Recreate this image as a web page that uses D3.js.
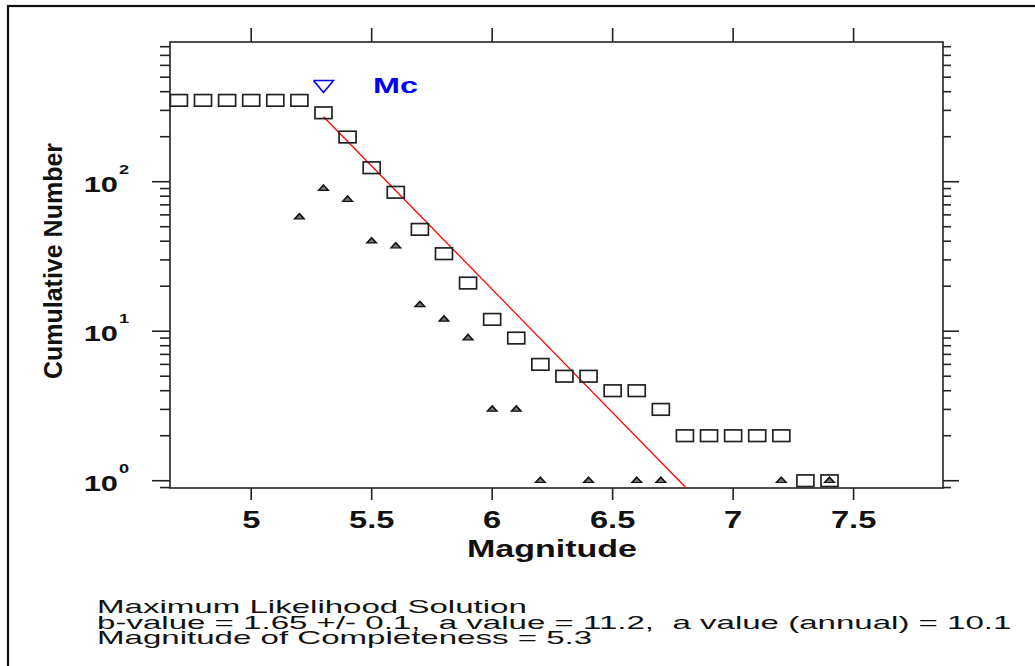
<!DOCTYPE html>
<html lang="en">
<head>
  <meta charset="UTF-8" />
  <title>Frequency-Magnitude Distribution</title>
  <script src="https://d3js.org/d3.v7.min.js"></script>
  <style>
    body { margin: 0; overflow: hidden; background: #fff; }
    svg { display: block; }
    text { font-family: "Liberation Sans", Arial, sans-serif; fill: #111; }
    .axis-line { stroke: #222; stroke-width: 1.6px; fill: none; }
    .tick { stroke: #222; stroke-width: 1.6px; }
    .cum { fill: none; stroke: #222; stroke-width: 1.7px; }
    .inc { fill: #777; stroke: #111; stroke-width: 1.4px; }
    .fit { fill: none; stroke: #ff0000; stroke-width: 1.3px; }
    .info { white-space: pre; }
  </style>
</head>
<body>
  <svg width="1035" height="666"></svg>
  <script>
    // magnitudes and cumulative number (squares)
    const magnitudes = [4.7, 4.8, 4.9, 5.0, 5.1, 5.2, 5.3, 5.4, 5.5, 5.6, 5.7, 5.8, 5.9, 6.0,
                        6.1, 6.2, 6.3, 6.4, 6.5, 6.6, 6.7, 6.8, 6.9, 7.0, 7.1, 7.2, 7.3, 7.4];
    const cumulativeCounts = [350, 350, 350, 350, 350, 350, 289, 199, 124, 85, 48, 33, 21, 12,
                              9, 6, 5, 5, 4, 4, 3, 2, 2, 2, 2, 2, 1, 1];
    // non cumulative number per bin (small triangles)
    const binMagnitudes = [5.2, 5.3, 5.4, 5.5, 5.6, 5.7, 5.8, 5.9, 6.0, 6.1, 6.2, 6.4, 6.6, 6.7, 7.2, 7.4];
    const binCounts = [58, 90, 76, 40, 37, 15, 12, 9, 3, 3, 1, 1, 1, 1, 1, 1];
    // Mc marker and fit
    const mcMagnitude = 5.3;
    const mcMarkerValue = 433;
    const bValue = 1.65;
    const aValue = 11.18;
    const xTicks = [5, 5.5, 6, 6.5, 7, 7.5];
    const yMajorTicks = [1, 10, 100];
    const yTickExponents = ["0", "1", "2"];
    const infoLines = [
      "Maximum Likelihood Solution",
      "b-value = 1.65 +/- 0.1,  a value = 11.2,  a value (annual) = 10.1",
      "Magnitude of Completeness = 5.3"
    ];

    const svg = d3.select("svg");
    const plot = { left: 170, right: 943, top: 42, bottom: 488 };

    const x = d3.scaleLinear().domain([4.663, 7.871]).range([plot.left, plot.right]);
    const y = d3.scaleLog().domain([0.894, 860]).range([plot.bottom, plot.top]);

    // outer frame (runs off the right and bottom edge)
    svg.append("rect")
      .attr("x", 8).attr("y", 6)
      .attr("width", 1100).attr("height", 700)
      .attr("fill", "none").attr("stroke", "#111").attr("stroke-width", 2.2);

    svg.append("defs").append("clipPath").attr("id", "clip")
      .append("rect")
      .attr("x", plot.left).attr("y", plot.top)
      .attr("width", plot.right - plot.left).attr("height", plot.bottom - plot.top);

    // plot box
    svg.append("rect").attr("class", "axis-line")
      .attr("x", plot.left).attr("y", plot.top)
      .attr("width", plot.right - plot.left).attr("height", plot.bottom - plot.top);

    // x ticks, bottom (down) and top (up)
    const ticksG = svg.append("g");
    ticksG.selectAll("line.xb").data(xTicks).enter().append("line")
      .attr("class", "tick")
      .attr("x1", d => x(d)).attr("x2", d => x(d))
      .attr("y1", plot.bottom).attr("y2", plot.bottom + 12);
    ticksG.selectAll("line.xt").data(xTicks).enter().append("line")
      .attr("class", "tick")
      .attr("x1", d => x(d)).attr("x2", d => x(d))
      .attr("y1", plot.top).attr("y2", plot.top - 14);

    // y ticks, left and right, outward
    const yAll = y.ticks().filter(d => d >= y.domain()[0] && d <= y.domain()[1]);
    const isMajor = d => yMajorTicks.indexOf(d) >= 0;
    ticksG.selectAll("line.yl").data(yAll).enter().append("line")
      .attr("class", "tick")
      .attr("y1", d => y(d)).attr("y2", d => y(d))
      .attr("x1", plot.left).attr("x2", d => plot.left - (isMajor(d) ? 18 : 10));
    ticksG.selectAll("line.yr").data(yAll).enter().append("line")
      .attr("class", "tick")
      .attr("y1", d => y(d)).attr("y2", d => y(d))
      .attr("x1", plot.right).attr("x2", d => plot.right + (isMajor(d) ? 16 : 8));

    // x tick labels
    svg.selectAll("text.xlab").data(xTicks).enter().append("text")
      .attr("class", "xlab")
      .attr("transform", d => `translate(${x(d)},527.5) scale(1.42,1)`)
      .attr("text-anchor", "middle")
      .style("font-size", "23px").style("font-weight", "bold")
      .text(d => d);

    // y tick labels 10^k
    yMajorTicks.forEach((v, i) => {
      svg.append("text")
        .attr("transform", `translate(118,${y(v) + 10}) scale(1.4,1)`)
        .attr("text-anchor", "end")
        .style("font-size", "22px").style("font-weight", "bold")
        .text("10");
      svg.append("text")
        .attr("transform", `translate(119,${y(v) - 8}) scale(1.4,1)`)
        .style("font-size", "13px").style("font-weight", "bold")
        .text(yTickExponents[i]);
    });

    // axis titles
    svg.append("text")
      .attr("transform", "translate(552,556.5) scale(1.48,1)")
      .attr("text-anchor", "middle")
      .style("font-size", "23px").style("font-weight", "bold")
      .text("Magnitude");
    svg.append("text")
      .attr("transform", "translate(62,261) rotate(-90)")
      .attr("text-anchor", "middle")
      .style("font-size", "25px").style("font-weight", "bold")
      .text("Cumulative Number");

    const data = svg.append("g").attr("clip-path", "url(#clip)");

    // fit line log10(N) = a - b M, from Mc downward
    const mEnd = (aValue - Math.log10(y.domain()[0])) / bValue;
    const fitLine = d3.line()
      .x(d => x(d))
      .y(d => y(Math.pow(10, aValue - bValue * d)));
    data.append("path").attr("class", "fit")
      .attr("d", fitLine([mcMagnitude, mEnd]));

    // cumulative squares
    const sw = 17, sh = 11.6;
    svg.selectAll("rect.cum").data(magnitudes).enter().append("rect")
      .attr("class", "cum")
      .attr("x", d => x(d) - sw / 2)
      .attr("y", (d, i) => y(cumulativeCounts[i]) - sh / 2)
      .attr("width", sw).attr("height", sh);

    // non-cumulative triangles
    const tri = d3.symbol().type(d3.symbolTriangle).size(22);
    svg.selectAll("path.inc").data(binMagnitudes).enter().append("path")
      .attr("class", "inc")
      .attr("transform", (d, i) => `translate(${x(d)},${y(binCounts[i])}) scale(1.35,0.85)`)
      .attr("d", tri);

    // Mc marker (inverted triangle) and label
    const mx = x(mcMagnitude), my = y(mcMarkerValue);
    svg.append("path")
      .attr("d", d3.line()([[mx - 10, my - 6], [mx + 10, my - 6], [mx, my + 6], [mx - 10, my - 6]]))
      .attr("fill", "none").attr("stroke", "#0000ff").attr("stroke-width", 1.6);
    svg.append("text")
      .attr("transform", "translate(373,93) scale(1.47,1)")
      .style("font-size", "22px").style("font-weight", "bold")
      .style("fill", "#0000ff")
      .text("Mc");

    // info text below the chart, stretched to match line 2 width
    const baselines = [613, 628.5, 643.5];
    const info = svg.selectAll("text.info").data(infoLines).enter().append("text")
      .attr("class", "info")
      .attr("xml:space", "preserve")
      .style("font-size", "19px")
      .text(d => d);
    const natural = info.nodes()[1].getComputedTextLength();
    const sx = 915 / natural;
    info.attr("transform", (d, i) => `translate(97,${baselines[i]}) scale(${sx},1)`);
  </script>
</body>
</html>
